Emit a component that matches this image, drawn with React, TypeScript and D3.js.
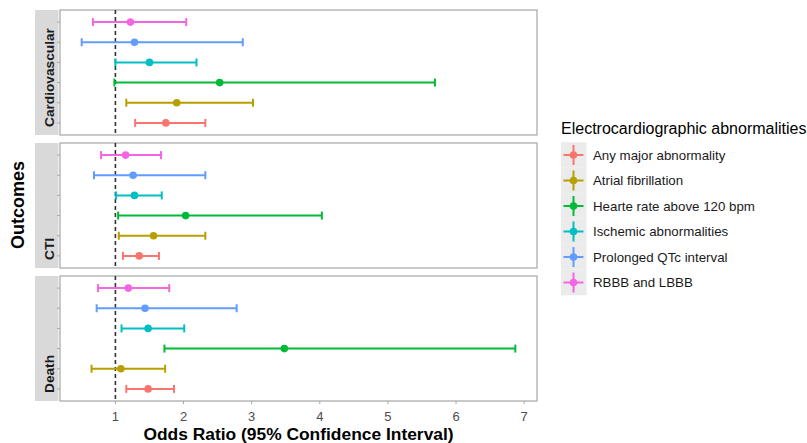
import React from "react";
import * as d3 from "d3";

const outcomes = ["Cardiovascular", "CTI", "Death"];
const abnormalities = [
  "Any major abnormality",
  "Atrial fibrillation",
  "Hearte rate above 120 bpm",
  "Ischemic abnormalities",
  "Prolonged QTc interval",
  "RBBB and LBBB",
];
const colors = ["#F8766D", "#B79F00", "#00BA38", "#00BFC4", "#619CFF", "#F564E3"];

// Odds ratios per outcome, in abnormality order
const orCardio = [1.74, 1.9, 2.53, 1.5, 1.28, 1.22];
const loCardio = [1.29, 1.16, 0.985, 1.0, 0.505, 0.67];
const hiCardio = [2.32, 3.02, 5.69, 2.19, 2.87, 2.04];

const orCTI = [1.35, 1.56, 2.03, 1.28, 1.26, 1.15];
const loCTI = [1.11, 1.05, 1.04, 1.01, 0.686, 0.79];
const hiCTI = [1.64, 2.32, 4.03, 1.68, 2.32, 1.67];

const orDeath = [1.48, 1.08, 3.48, 1.48, 1.435, 1.19];
const loDeath = [1.16, 0.65, 1.72, 1.09, 0.725, 0.745];
const hiDeath = [1.86, 1.73, 6.87, 2.01, 2.78, 1.79];

const xTicks = [1, 2, 3, 4, 5, 6, 7];
const refLine = 1;

const panelData = [
  { or: orCardio, lo: loCardio, hi: hiCardio },
  { or: orCTI, lo: loCTI, hi: hiCTI },
  { or: orDeath, lo: loDeath, hi: hiDeath },
];

const FONT = "Arial, 'Liberation Sans', sans-serif";

export default function App() {
  const W = 807, H = 443;
  const panelLeft = 60, panelRight = 537;
  const panelTop = 10, panelH = 125, gap = 8;
  const stripX = 35, stripW = 23.5;

  const allLo = d3.min(panelData.flatMap((p) => p.lo)) as number;
  const allHi = d3.max(panelData.flatMap((p) => p.hi)) as number;
  const span = allHi - allLo;
  const x = d3
    .scaleLinear()
    .domain([allLo - 0.05 * span, allHi + 0.05 * span])
    .range([panelLeft, panelRight]);

  const yDomain = abnormalities.map((_, i) => i);
  const bottomPanel = panelTop + 2 * (panelH + gap) + panelH;

  return (
    <svg width={W} height={H} style={{ position: "absolute", left: 0, top: 0, background: "#fff" }} fontFamily={FONT}>
      {outcomes.map((o, pi) => {
        const top = panelTop + pi * (panelH + gap);
        const y = d3
          .scalePoint<number>()
          .domain([...yDomain].reverse())
          .range([top, top + panelH])
          .padding(0.6);
        const d = panelData[pi];
        return (
          <g key={o}>
            <rect x={stripX} y={top} width={stripW} height={panelH} fill="#D9D9D9" />
            <text
              transform={`translate(53.5,${top + panelH - 8}) rotate(-90)`}
              textAnchor="start"
              fontSize={13.7}
              fontWeight="bold"
              fill="#1A1A1A"
            >
              {o}
            </text>
            <rect x={panelLeft} y={top} width={panelRight - panelLeft} height={panelH} fill="#fff" stroke="#A6A6A6" strokeWidth={1.2} />
            {yDomain.map((i) => (
              <line key={"t" + i} x1={panelLeft - 3} x2={panelLeft} y1={y(i)} y2={y(i)} stroke="#A6A6A6" strokeWidth={1} />
            ))}
            <line x1={x(refLine)} x2={x(refLine)} y1={top} y2={top + panelH} stroke="#333" strokeWidth={1.6} strokeDasharray="4,3" />
            {yDomain.map((i) => {
              const yy = y(i) as number;
              return (
                <g key={i} stroke={colors[i]} strokeWidth={2}>
                  <line x1={x(d.lo[i])} x2={x(d.hi[i])} y1={yy} y2={yy} />
                  <line x1={x(d.lo[i])} x2={x(d.lo[i])} y1={yy - 4} y2={yy + 4} />
                  <line x1={x(d.hi[i])} x2={x(d.hi[i])} y1={yy - 4} y2={yy + 4} />
                  <circle cx={x(d.or[i])} cy={yy} r={3.8} fill={colors[i]} stroke="none" />
                </g>
              );
            })}
          </g>
        );
      })}
      {xTicks.map((t) => (
        <g key={t}>
          <line x1={x(t)} x2={x(t)} y1={bottomPanel} y2={bottomPanel + 3} stroke="#A6A6A6" />
          <text x={x(t)} y={bottomPanel + 20} textAnchor="middle" fontSize={13} fill="#4D4D4D">
            {t}
          </text>
        </g>
      ))}
      <text x={(panelLeft + panelRight) / 2} y={440} textAnchor="middle" fontSize={17.4} fontWeight="bold" fill="#000">
        Odds Ratio (95% Confidence Interval)
      </text>
      <text transform={`translate(24,205) rotate(-90)`} textAnchor="middle" fontSize={18} fontWeight="bold" fill="#000">
        Outcomes
      </text>
      <text x={561} y={134} fontSize={16} fill="#000">
        Electrocardiographic abnormalities
      </text>
      {abnormalities.map((a, i) => {
        const cy = 155 + i * 25.5;
        const cx = 573.5;
        return (
          <g key={a}>
            <rect x={561} y={cy - 12.75} width={25.5} height={25.5} fill="#EBEBEB" />
            <g stroke={colors[i]} strokeWidth={2}>
              <line x1={cx - 10} x2={cx + 10} y1={cy} y2={cy} />
              <line x1={cx} x2={cx} y1={cy - 10} y2={cy + 10} />
            </g>
            <circle cx={cx} cy={cy} r={3.8} fill={colors[i]} />
            <text x={593} y={cy + 4.6} fontSize={13.3} fill="#1A1A1A">
              {a}
            </text>
          </g>
        );
      })}
    </svg>
  );
}
